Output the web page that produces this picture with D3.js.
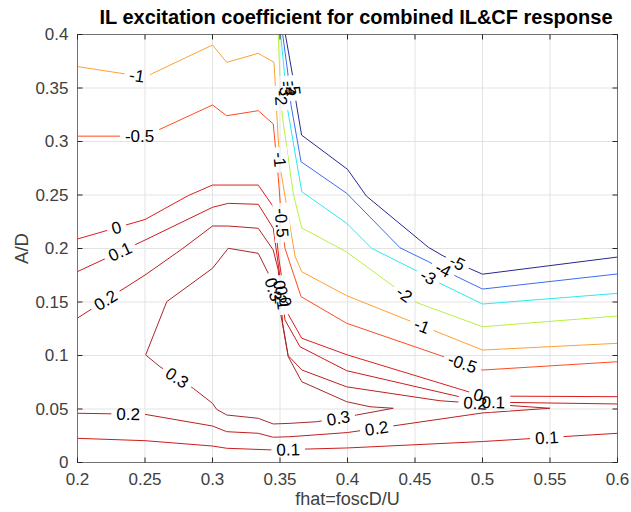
<!DOCTYPE html>
<html>
<head>
<meta charset="utf-8">
<script src="https://cdn.jsdelivr.net/npm/d3@7"></script>
<style>
  body { margin: 0; background: #fff; }
  text { font-family: "Liberation Sans", Arial, sans-serif; }
</style>
</head>
<body>
<svg id="chart" width="631" height="512"></svg>
<script>
// contour levels, and each contour as [fhat, A/D] points
const levels = [-5, -4, -3, -2, -1, -0.5, 0, 0.1, 0.2, 0.3];
const xTicks = [0.2, 0.25, 0.3, 0.35, 0.4, 0.45, 0.5, 0.55, 0.6];
const yTicks = [0, 0.05, 0.1, 0.15, 0.2, 0.25, 0.3, 0.35, 0.4];

const lineM5 = [[0.354,0.4],[0.359,0.364],[0.362,0.336],[0.366,0.306],[0.4,0.274],[0.414,0.249],[0.46,0.201],[0.471,0.193],[0.491,0.181],[0.5,0.176],[0.6,0.192]];
const lineM4 = [[0.352,0.4],[0.3557,0.365],[0.3581,0.3346],[0.3656,0.2811],[0.3994,0.2516],[0.4389,0.2007],[0.4599,0.1877],[0.4796,0.1746],[0.5,0.1621],[0.6,0.1762]];
const lineM3 = [[0.3505,0.4],[0.3532,0.365],[0.355,0.3346],[0.3661,0.2531],[0.3994,0.2236],[0.4179,0.2002],[0.45,0.1799],[0.4685,0.1675],[0.5,0.1481],[0.6,0.1581]];
const lineM2 = [[0.3487,0.4],[0.35,0.3575],[0.3517,0.3238],[0.3599,0.2509],[0.3661,0.2192],[0.3994,0.1967],[0.45,0.15],[0.5,0.1269],[0.6,0.1369]];
const lineM1 = [[0.2,0.37],[0.25,0.3603],[0.3,0.3902],[0.3105,0.374],[0.3339,0.3824],[0.3456,0.374],[0.3487,0.3014],[0.3507,0.2718],[0.3611,0.1929],[0.3661,0.1783],[0.3994,0.1559],[0.5,0.1051],[0.6,0.1114]];
const lineM05 = [[0.2,0.305],[0.25,0.305],[0.3,0.3341],[0.3105,0.3241],[0.3339,0.3288],[0.345,0.3164],[0.3487,0.2671],[0.3513,0.2238],[0.3537,0.2002],[0.3656,0.155],[0.3994,0.1301],[0.5,0.0864],[0.6,0.0942]];
const line0 = [[0.2,0.2089],[0.25,0.2271],[0.2821,0.2495],[0.3,0.2593],[0.3339,0.2593],[0.345,0.2391],[0.3493,0.1893],[0.355,0.141],[0.3661,0.1161],[0.4,0.1005],[0.5,0.0621],[0.6,0.0615]];
const line01a = [[0.2,0.1784],[0.25,0.2079],[0.3,0.2385],[0.3117,0.2422],[0.3339,0.2413],[0.345,0.2189],[0.3493,0.1799],[0.3537,0.1332],[0.3648,0.1082],[0.3994,0.0858],[0.5,0.0565],[0.6,0.0547]];
const line01b = [[0.2,0.0226],[0.25,0.0204],[0.3,0.0154],[0.3105,0.0133],[0.345,0.0117],[0.4,0.0136],[0.5,0.0196],[0.6,0.0273]];
const line02a = [[0.2,0.135],[0.25,0.1752],[0.2772,0.1993],[0.3,0.221],[0.3117,0.221],[0.3339,0.2189],[0.345,0.1986],[0.3487,0.1799],[0.352,0.13],[0.356,0.1],[0.3661,0.0865],[0.3994,0.0707],[0.4685,0.0577],[0.55,0.0507]];
const line02b = [[0.2,0.046],[0.25,0.045],[0.3,0.0341],[0.3105,0.0288],[0.3339,0.0273],[0.345,0.0236],[0.3574,0.0241],[0.4,0.028],[0.5,0.0463],[0.55,0.0507]];
const line03 = [[0.2505,0.1005],[0.2661,0.1503],[0.3,0.1815],[0.3117,0.2002],[0.3339,0.1955],[0.3413,0.1768],[0.35,0.1425],[0.3561,0.0989],[0.3661,0.0755],[0.3994,0.0568],[0.4167,0.0521],[0.4339,0.0507],[0.4068,0.0444],[0.3772,0.0381],[0.3574,0.0366],[0.345,0.036],[0.3339,0.0413],[0.3105,0.0444],[0.3031,0.0497],[0.3,0.0553],[0.2858,0.0693],[0.2611,0.0895],[0.2505,0.1005]];

// where clabel put each number: [level, fhat, A/D]
const labelSpots = [
  [-1, 0.244, 0.361], [-1, 0.35, 0.283], [-1, 0.454, 0.124],
  [-0.5, 0.246, 0.308], [-0.5, 0.3513, 0.224], [-0.5, 0.485, 0.092],
  [-2, 0.3507, 0.3407], [-2, 0.4426, 0.158],
  [-3, 0.3541, 0.3495], [-3, 0.4596, 0.173],
  [-4, 0.357, 0.3495], [-4, 0.4711, 0.181],
  [-5, 0.3604, 0.35], [-5, 0.4811, 0.186],
  [0, 0.229, 0.219], [0, 0.353, 0.15], [0, 0.497, 0.063],
  [0.1, 0.2315, 0.197], [0.1, 0.3507, 0.1537], [0.1, 0.508, 0.055],
  [0.2, 0.219, 0.155], [0.2, 0.3478, 0.159], [0.2, 0.4944, 0.052],
  [0.2, 0.2376, 0.045], [0.2, 0.4216, 0.032],
  [0.3, 0.3434, 0.161], [0.3, 0.2735, 0.0787], [0.3, 0.3932, 0.0413],
  [0.1, 0.3561, 0.0117], [0.1, 0.5476, 0.0241]
];

const lineColors = ["#28288f", "#3a6cf2", "#2ee8f0", "#b8f040", "#ffa030",
                    "#ff4a1e", "#dc1e1e", "#cc1c1c", "#bb2020", "#a52828"];

const contours = [
  {level: -5, pts: lineM5}, {level: -4, pts: lineM4}, {level: -3, pts: lineM3},
  {level: -2, pts: lineM2}, {level: -1, pts: lineM1}, {level: -0.5, pts: lineM05},
  {level: 0, pts: line0}, {level: 0.1, pts: line01a}, {level: 0.1, pts: line01b},
  {level: 0.2, pts: line02a}, {level: 0.2, pts: line02b}, {level: 0.3, pts: line03}
];

const W = 631, H = 512;
const margin = {left: 77.5, right: 13.5, top: 34.5, bottom: 49.5};
const AXIS_COLOR = "#262626";
const GRID_COLOR = "#e3e3e3";
const LABEL_SIZE = 17;

const svg = d3.select("#chart");
const x = d3.scaleLinear().domain([0.2, 0.6]).range([margin.left, W - margin.right]);
const y = d3.scaleLinear().domain([0, 0.4]).range([H - margin.bottom, margin.top]);
const colorOf = d3.scaleOrdinal().domain(levels).range(lineColors);

const defs = svg.append("defs");
defs.append("clipPath").attr("id", "plotClip")
  .append("rect")
  .attr("x", x(0.2)).attr("y", y(0.4))
  .attr("width", x(0.6) - x(0.2)).attr("height", y(0) - y(0.4));

// grid
const grid = svg.append("g");
grid.selectAll(".vg").data(xTicks).enter().append("line")
  .attr("x1", d => x(d)).attr("x2", d => x(d))
  .attr("y1", y(0)).attr("y2", y(0.4))
  .attr("stroke", GRID_COLOR).attr("stroke-width", 1);
grid.selectAll(".hg").data(yTicks).enter().append("line")
  .attr("x1", x(0.2)).attr("x2", x(0.6))
  .attr("y1", d => y(d)).attr("y2", d => y(d))
  .attr("stroke", GRID_COLOR).attr("stroke-width", 1);

// find the spot on a contour closest to a label position, plus the line angle there
function onContour(level, dx, dy) {
  const px = x(dx), py = y(dy);
  let best = null;
  contours.filter(c => c.level === level).forEach(c => {
    for (let i = 0; i < c.pts.length - 1; i++) {
      const ax = x(c.pts[i][0]), ay = y(c.pts[i][1]);
      const bx = x(c.pts[i + 1][0]), by = y(c.pts[i + 1][1]);
      const vx = bx - ax, vy = by - ay;
      const len2 = vx * vx + vy * vy;
      let t = len2 ? ((px - ax) * vx + (py - ay) * vy) / len2 : 0;
      t = Math.max(0, Math.min(1, t));
      const qx = ax + t * vx, qy = ay + t * vy;
      const d = (qx - px) ** 2 + (qy - py) ** 2;
      if (!best || d < best.d) {
        let ang = Math.atan2(vy, vx) * 180 / Math.PI;
        if (ang > 90) ang -= 180;
        if (ang < -90) ang += 180;
        best = {d: d, x: qx, y: qy, angle: ang};
      }
    }
  });
  return best;
}

const labelGroup = svg.append("g");
const labels = labelSpots.map(s => Object.assign({level: s[0]}, onContour(s[0], s[1], s[2])));

const labelText = labelGroup.selectAll("text").data(labels).enter().append("text")
  .attr("transform", d => `translate(${d.x},${d.y}) rotate(${d.angle})`)
  .attr("text-anchor", "middle")
  .attr("dy", "0.35em")
  .attr("font-size", LABEL_SIZE)
  .attr("fill", "#000")
  .text(d => String(d.level));

labelText.each(function (d) { d.w = this.getComputedTextLength(); });

// gaps in the lines behind the labels
const mask = defs.append("mask").attr("id", "labelGaps")
  .attr("maskUnits", "userSpaceOnUse")
  .attr("x", 0).attr("y", 0).attr("width", W).attr("height", H);
mask.append("rect").attr("width", W).attr("height", H).attr("fill", "#fff");
mask.selectAll(".gap").data(labels).enter().append("rect")
  .attr("transform", d => `translate(${d.x},${d.y}) rotate(${d.angle})`)
  .attr("x", d => -d.w / 2 - 5).attr("y", -8)
  .attr("width", d => d.w + 10).attr("height", 16)
  .attr("fill", "#000");

const line = d3.line().x(d => x(d[0])).y(d => y(d[1]));
svg.insert("g", () => labelGroup.node())
  .attr("clip-path", "url(#plotClip)")
  .append("g")
  .attr("mask", "url(#labelGaps)")
  .selectAll("path").data(contours).enter().append("path")
  .attr("d", d => line(d.pts))
  .attr("fill", "none")
  .attr("stroke", d => colorOf(d.level))
  .attr("stroke-width", 1);

// axes box with inward ticks
const axes = svg.append("g").attr("font-size", 17).attr("fill", "#404040");
const TICK = 5;
axes.append("rect")
  .attr("x", x(0.2)).attr("y", y(0.4))
  .attr("width", x(0.6) - x(0.2)).attr("height", y(0) - y(0.4))
  .attr("fill", "none").attr("stroke", AXIS_COLOR).attr("stroke-opacity", 0.6).attr("stroke-width", 1);

xTicks.forEach(t => {
  axes.append("line").attr("x1", x(t)).attr("x2", x(t)).attr("y1", y(0)).attr("y2", y(0) - TICK)
    .attr("stroke", AXIS_COLOR);
  axes.append("line").attr("x1", x(t)).attr("x2", x(t)).attr("y1", y(0.4)).attr("y2", y(0.4) + TICK)
    .attr("stroke", AXIS_COLOR);
  axes.append("text").attr("x", x(t)).attr("y", y(0) + 22)
    .attr("text-anchor", "middle").text(String(t));
});
yTicks.forEach(t => {
  axes.append("line").attr("x1", x(0.2)).attr("x2", x(0.2) + TICK).attr("y1", y(t)).attr("y2", y(t))
    .attr("stroke", AXIS_COLOR);
  axes.append("line").attr("x1", x(0.6)).attr("x2", x(0.6) - TICK).attr("y1", y(t)).attr("y2", y(t))
    .attr("stroke", AXIS_COLOR);
  axes.append("text").attr("x", x(0.2) - 9).attr("y", y(t)).attr("dy", "0.35em")
    .attr("text-anchor", "end").text(String(t));
});

axes.append("text")
  .attr("x", (x(0.2) + x(0.6)) / 2).attr("y", H - 7)
  .attr("font-size", 18)
  .attr("text-anchor", "middle")
  .text("fhat=foscD/U");

axes.append("text")
  .attr("transform", `translate(28,${(y(0) + y(0.4)) / 2}) rotate(-90)`)
  .attr("font-size", 18.5)
  .attr("text-anchor", "middle")
  .text("A/D");

svg.append("text")
  .attr("x", 356).attr("y", 24)
  .attr("text-anchor", "middle")
  .attr("font-size", 20).attr("font-weight", "bold").attr("fill", "#000")
  .text("IL excitation coefficient for combined IL&CF response");
</script>
</body>
</html>
